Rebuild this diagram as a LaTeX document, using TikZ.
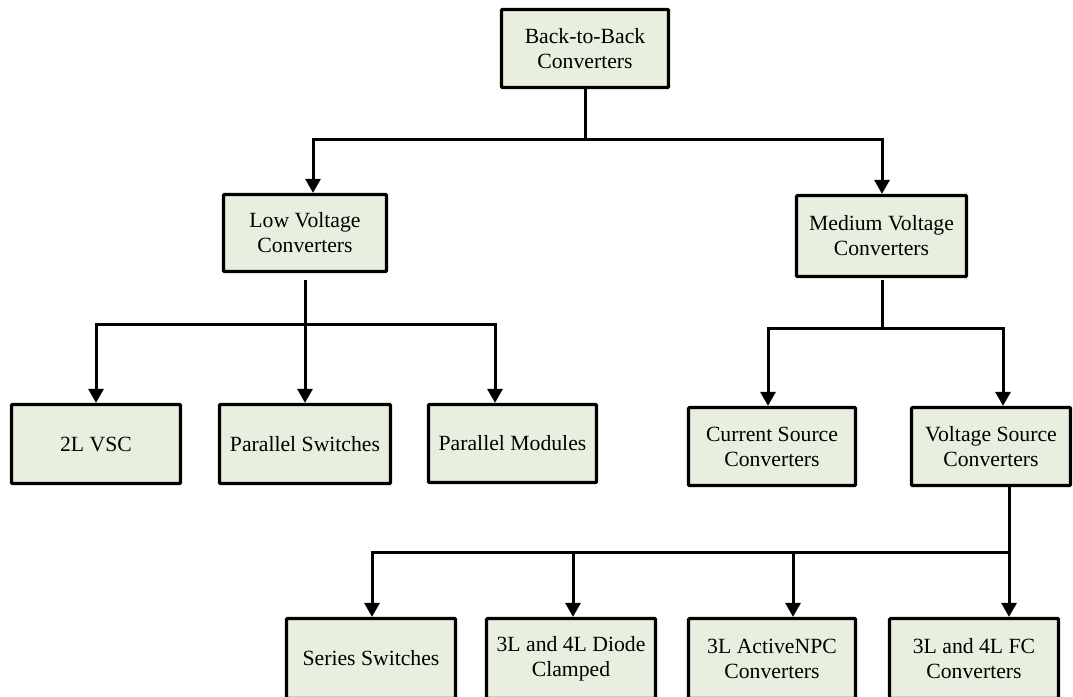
\documentclass[tikz,border=0pt]{standalone}
\usepackage{fontspec}
\setmainfont{Liberation Serif}
\usetikzlibrary{arrows.meta}
\definecolor{boxfill}{RGB}{233,239,222}
\tikzset{
  box/.style={draw=black, fill=boxfill, line width=3.2pt, rounded corners=1pt,
    inner sep=0pt, align=center, font=\fontsize{21.7}{25}\selectfont},
  link/.style={line width=3pt},
  arr/.style={link, -{Triangle[width=15pt,length=14pt]}},
}
\begin{document}
\begin{tikzpicture}[x=1pt,y=-1pt]
\useasboundingbox (0,0) rectangle (1073,696);
\clip (0,0) rectangle (1073,696);

% level 0
\node[box, minimum width=167pt, minimum height=78pt] (b2b) at (585,48.5) {Back-to-Back\\Converters};

% level 1
\node[box, minimum width=163pt, minimum height=77pt] (lv) at (305,233) {Low Voltage\\Converters};
\node[box, minimum width=170pt, minimum height=81pt] (mv) at (881.5,236) {Medium Voltage\\Converters};

% level 2
\node[box, minimum width=169pt, minimum height=79pt] (vsc2) at (96,444) {2L VSC};
\node[box, minimum width=171pt, minimum height=79pt] (psw) at (305,444) {Parallel Switches};
\node[box, minimum width=168pt, minimum height=78pt] (pmod) at (512.5,443.5) {Parallel Modules};
\node[box, minimum width=167pt, minimum height=78pt] (csc) at (772,446.5) {Current Source\\Converters};
\node[box, minimum width=159pt, minimum height=78pt] (vsrc) at (991,446.5) {Voltage Source\\Converters};

% level 3
\node[box, minimum width=169pt, minimum height=80pt] (ser) at (371,658.5) {Series Switches};
\node[box, minimum width=169pt, minimum height=80pt] (dio) at (571,658.5) {3L and 4L Diode\\Clamped};
\node[box, minimum width=167pt, minimum height=80pt] (npc) at (772,658.5) {3L ActiveNPC\\Converters};
\node[box, minimum width=169pt, minimum height=80pt] (fc) at (974,658.5) {3L and 4L FC\\Converters};

% junction points of the bus lines
\coordinate (j0) at (585,139);
\coordinate (lvtop) at (305,280);
\coordinate (j1) at (305,324);
\coordinate (mvtop) at (882,280);
\coordinate (j2) at (882,328);
\coordinate (j3) at (1009,552);

% top level split
\draw[link] (b2b) -- (j0);
\draw[arr] (j0) -| ([xshift=8pt]lv.north);
\draw[arr] (j0) -| ([xshift=0.5pt]mv.north);

% low voltage branch
\draw[arr] (lvtop) -- (psw.north);
\draw[arr] (j1) -| (vsc2.north);
\draw[arr] (j1) -| ([xshift=-17.5pt]pmod.north);

% medium voltage branch
\draw[link] (mvtop) -- (j2);
\draw[arr] (j2) -| ([xshift=-4pt]csc.north);
\draw[arr] (j2) -| ([xshift=12pt]vsrc.north);

% voltage source branch
\draw[arr] ([xshift=18pt]vsrc.south) -- ([xshift=35pt]fc.north);
\draw[arr] (j3) -| ([xshift=1pt]ser.north);
\draw[arr] (j3) -| ([xshift=2pt]dio.north);
\draw[arr] (j3) -| ([xshift=21pt]npc.north);
\end{tikzpicture}
\end{document}
